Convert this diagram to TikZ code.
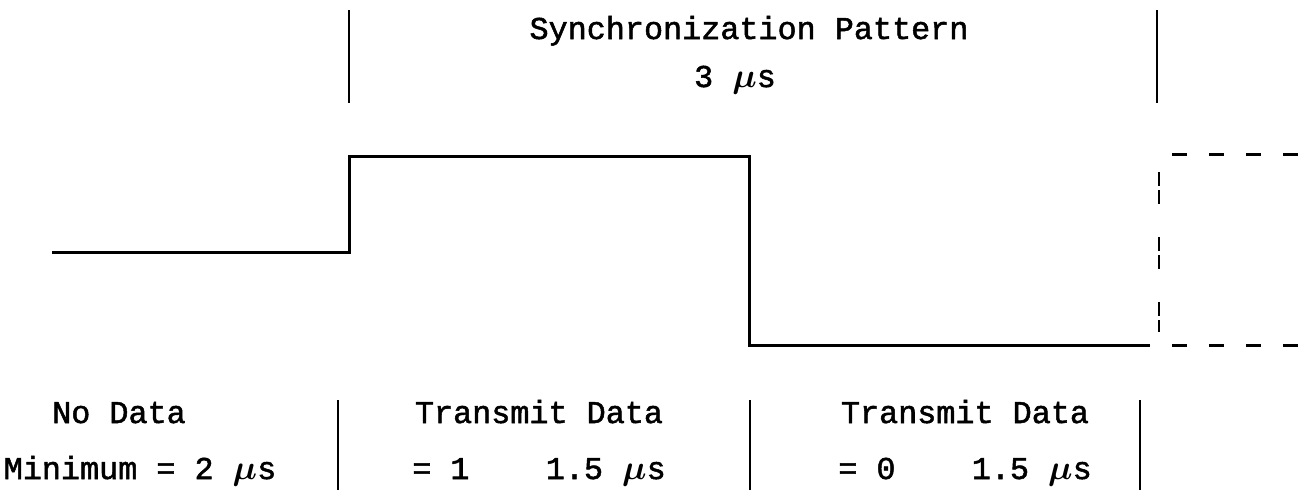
\documentclass[tikz,border=0pt]{standalone}
\usepackage{amsmath}
\usepackage{fontspec}
\setmainfont{Liberation Mono}[BoldFont={Liberation Mono},BoldFeatures={FakeBold=1.6}]
\begin{document}
\begin{tikzpicture}[x=0.5pt,y=-0.5pt,
  wave/.style={line width=1.5pt,line join=miter},
  sep/.style={line width=1.2pt},
  dsh/.style={line width=1.5pt,dash pattern=on 7.5pt off 11pt},
  vdsh/.style={line width=1.2pt,dash pattern=on 7pt off 2pt on 7pt off 16.5pt},
  lbl/.style={font=\fontsize{15.9}{19}\selectfont\bfseries,inner sep=0pt,anchor=base}]
\useasboundingbox (0,0) rectangle (1307,493);
% top separators
\coordinate (t1a) at (349,10); \coordinate (t1b) at (349,103);
\coordinate (t2a) at (1157,10); \coordinate (t2b) at (1157,103);
\draw[sep] (t1a) -- (t1b);
\draw[sep] (t2a) -- (t2b);
\node[lbl] (sync) at (749,39) {Synchronization Pattern};
\node[lbl] (three) at (735,87) {3 $\boldsymbol{\mu}$s};
% waveform
\coordinate (w0) at (52,252);
\coordinate (w1) at (349,252);
\coordinate (w2) at (349,156);
\coordinate (w3) at (749,156);
\coordinate (w4) at (749,345);
\coordinate (w5) at (1150,345);
\draw[wave] (w0) -- (w1) -- (w2) -- (w3) -- (w4) -- (w5);
% dashed continuation
\coordinate (d1a) at (1172,154); \coordinate (d1b) at (1307,154);
\coordinate (d2a) at (1172,345); \coordinate (d2b) at (1307,345);
\coordinate (d3a) at (1159,172); \coordinate (d3b) at (1159,332);
\draw[dsh] (d1a) -- (d1b);
\draw[dsh] (d2a) -- (d2b);
\draw[vdsh] (d3a) -- (d3b);
% bottom separators
\coordinate (b1a) at (338,400); \coordinate (b1b) at (338,490);
\coordinate (b2a) at (750,400); \coordinate (b2b) at (750,490);
\coordinate (b3a) at (1140,400); \coordinate (b3b) at (1140,490);
\draw[sep] (b1a) -- (b1b);
\draw[sep] (b2a) -- (b2b);
\draw[sep] (b3a) -- (b3b);
% bottom labels
\node[lbl] (nd) at (119,423) {No Data};
\node[lbl] (min) at (140,479) {Minimum = 2 $\boldsymbol{\mu}$s};
\node[lbl] (td1) at (539,423) {Transmit Data};
\node[lbl] (v1) at (539,479) {= 1~~~~1.5~$\boldsymbol{\mu}$s};
\node[lbl] (td0) at (965,423) {Transmit Data};
\node[lbl] (v0) at (965,479) {= 0~~~~1.5~$\boldsymbol{\mu}$s};
\end{tikzpicture}
\end{document}
